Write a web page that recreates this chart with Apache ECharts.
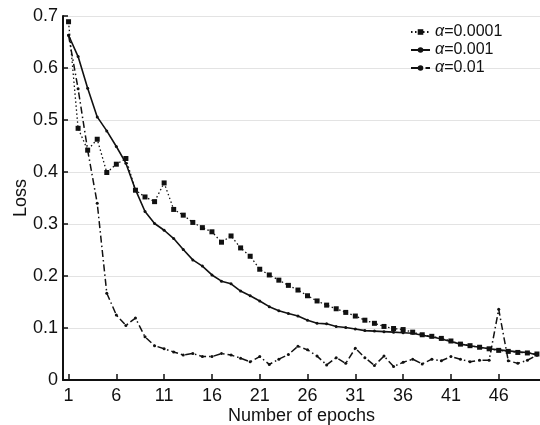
<!DOCTYPE html>
<html>
<head>
<meta charset="utf-8">
<script src="https://cdn.jsdelivr.net/npm/echarts@6/dist/echarts.min.js"></script>
<style>html,body{margin:0;padding:0;background:#fff;}#c{width:540px;height:425px;}</style>
</head>
<body>
<div id="c"></div>
<script>
const epochs = Array.from({length: 50}, (_, i) => i + 1);
const xTicks = [1, 6, 11, 16, 21, 26, 31, 36, 41, 46];
const seriesNames = ['α=0.0001', 'α=0.001', 'α=0.01'];
const loss0001 = [0.689,0.484,0.442,0.463,0.399,0.415,0.426,0.365,0.352,0.343,
  0.379,0.328,0.317,0.303,0.293,0.285,0.265,0.277,0.254,0.238,
  0.213,0.202,0.192,0.182,0.173,0.162,0.152,0.144,0.137,0.130,
  0.123,0.115,0.109,0.103,0.099,0.097,0.092,0.087,0.084,0.080,
  0.075,0.069,0.066,0.063,0.060,0.057,0.055,0.053,0.052,0.050];
const loss001 = [0.663,0.622,0.561,0.506,0.479,0.449,0.417,0.366,0.324,0.301,
  0.288,0.272,0.251,0.231,0.219,0.202,0.190,0.185,0.171,0.162,
  0.152,0.141,0.133,0.128,0.123,0.115,0.109,0.108,0.103,0.101,
  0.098,0.095,0.094,0.093,0.092,0.091,0.090,0.086,0.083,0.079,
  0.074,0.069,0.066,0.063,0.060,0.058,0.056,0.054,0.053,0.048];
const loss01 = [0.663,0.560,0.442,0.340,0.167,0.125,0.105,0.119,0.083,0.066,
  0.060,0.054,0.048,0.051,0.045,0.045,0.051,0.048,0.042,0.035,
  0.045,0.030,0.040,0.049,0.065,0.058,0.046,0.029,0.043,0.032,
  0.061,0.043,0.028,0.046,0.026,0.034,0.040,0.031,0.040,0.037,
  0.045,0.040,0.035,0.038,0.038,0.136,0.037,0.032,0.038,0.048];

const font = '"Liberation Sans", Arial, sans-serif';
const pair = arr => epochs.map((e, i) => [e, arr[i]]);

const chart = echarts.init(document.getElementById('c'), null, {renderer: 'canvas'});
chart.setOption({
  backgroundColor: '#fff',
  animation: false,
  grid: {left: 63, right: 0, top: 16, bottom: 45, containLabel: false, outerBoundsMode: 'none'},
  legend: {
    orient: 'vertical', left: 405, top: 19,
    itemWidth: 19, itemHeight: 7, itemGap: 2,
    data: seriesNames,
    textStyle: {fontFamily: font, fontSize: 16, color: '#111',
      rich: {i: {fontStyle: 'italic', fontFamily: font, fontSize: 16, color: '#111'},
             t: {fontFamily: font, fontSize: 16, color: '#111'}}},
    formatter: n => '{i|α}{t|' + n.slice(1) + '}'
  },
  xAxis: {
    type: 'value', min: 0.42, max: 50.32,
    name: 'Number of epochs', nameLocation: 'middle', nameGap: 27, nameMoveOverlap: false,
    nameTextStyle: {fontFamily: font, fontSize: 18, color: '#111'},
    axisLine: {show: true, lineStyle: {color: '#111', width: 2}},
    axisTick: {show: true, inside: true, length: 6, customValues: xTicks, lineStyle: {color: '#111', width: 1.5}},
    axisLabel: {customValues: xTicks, fontFamily: font, fontSize: 18, color: '#111', margin: 7},
    splitLine: {show: false}
  },
  yAxis: {
    type: 'value', min: 0, max: 0.7, interval: 0.1,
    name: 'Loss', nameLocation: 'middle', nameGap: 33, nameRotate: 90, nameMoveOverlap: false,
    nameTextStyle: {fontFamily: font, fontSize: 18, color: '#111'},
    axisLine: {show: true, lineStyle: {color: '#111', width: 2}},
    axisTick: {show: true, inside: true, length: 5, lineStyle: {color: '#111', width: 1.5}},
    axisLabel: {fontFamily: font, fontSize: 18, color: '#111', margin: 5,
      formatter: v => (Math.round(v * 10) / 10).toString()},
    splitLine: {show: true, lineStyle: {color: '#e3e3e3', width: 1}}
  },
  series: [
    {name: seriesNames[0], type: 'line', data: pair(loss0001),
     symbol: 'rect', symbolSize: 5, showSymbol: true,
     lineStyle: {color: '#111', width: 1.3, type: [1.5, 2.5]},
     itemStyle: {color: '#111'}},
    {name: seriesNames[1], type: 'line', data: pair(loss001),
     symbol: 'circle', symbolSize: 3,
     lineStyle: {color: '#111', width: 1.6, type: 'solid'},
     itemStyle: {color: '#111'}},
    {name: seriesNames[2], type: 'line', data: pair(loss01),
     symbol: 'circle', symbolSize: 3,
     lineStyle: {color: '#111', width: 1.5, type: [7, 3, 1.5, 3]},
     itemStyle: {color: '#111'}}
  ]
});
</script>
</body>
</html>
